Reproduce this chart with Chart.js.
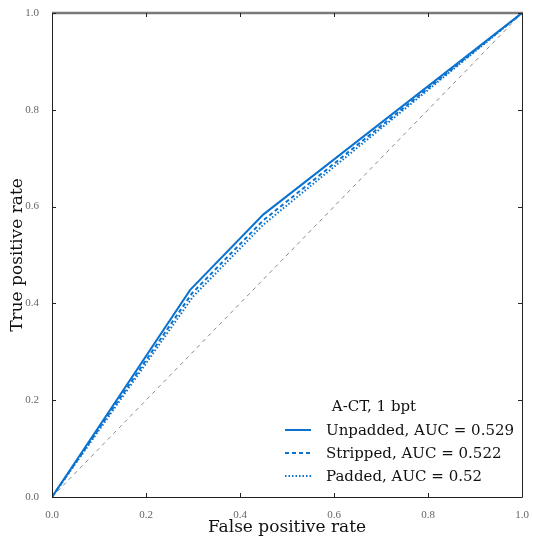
<!DOCTYPE html>
<html>
<head>
<meta charset="utf-8">
<script src="https://cdn.jsdelivr.net/npm/chart.js@4.4.0/dist/chart.umd.min.js"></script>
<style>
  html, body { margin: 0; padding: 0; background: #fff; }
  #wrap { width: 533px; height: 542px; }
</style>
</head>
<body>
<div id="wrap"><canvas id="roc" width="533" height="542"></canvas></div>
<script>
// ROC points
const fprUnpadded = [0, 0.294, 0.45, 1];
const tprUnpadded = [0, 0.428, 0.584, 1];
const fprStripped = [0, 0.298, 0.45, 1];
const tprStripped = [0, 0.421, 0.572, 1];
const fprPadded = [0, 0.3, 0.45, 1];
const tprPadded = [0, 0.414, 0.563, 1];
const chanceLine = [0, 1];

const seriesLabels = ['Unpadded, AUC = 0.529', 'Stripped, AUC = 0.522', 'Padded, AUC = 0.52'];
const legendTitle = 'A-CT, 1 bpt';
const tickValues = [0, 0.2, 0.4, 0.6, 0.8, 1.0];

const blue = '#0b72cf';
const serif = "'Liberation Serif', 'DejaVu Serif', serif";
const wideSerif = "'DejaVu Serif', serif";

function toPoints(xs, ys) {
  return xs.map((x, i) => ({ x: x, y: ys[i] }));
}

// frame, inward ticks and the legend
const framePlugin = {
  id: 'frame',
  afterDatasetsDraw(chart) {
    const { ctx, chartArea: a, scales } = chart;
    ctx.save();
    // spines
    ctx.lineWidth = 1;
    ctx.strokeStyle = '#222';
    ctx.beginPath();
    ctx.moveTo(a.left + 0.5, a.top); ctx.lineTo(a.left + 0.5, a.bottom + 0.5);
    ctx.lineTo(a.right + 0.5, a.bottom + 0.5); ctx.lineTo(a.right + 0.5, a.top);
    ctx.stroke();
    ctx.lineWidth = 2.5;
    ctx.strokeStyle = '#7a7a7a';
    ctx.beginPath();
    ctx.moveTo(a.left, a.top); ctx.lineTo(a.right + 1, a.top);
    ctx.stroke();
    // ticks
    ctx.lineWidth = 1;
    ctx.strokeStyle = '#222';
    ctx.beginPath();
    tickValues.forEach(v => {
      const px = Math.round(scales.x.getPixelForValue(v)) + 0.5;
      ctx.moveTo(px, a.bottom); ctx.lineTo(px, a.bottom - 4);
      ctx.moveTo(px, a.top); ctx.lineTo(px, a.top + 4);
      const py = Math.round(scales.y.getPixelForValue(v)) + 0.5;
      ctx.moveTo(a.left, py); ctx.lineTo(a.left + 4, py);
      ctx.moveTo(a.right, py); ctx.lineTo(a.right - 4, py);
    });
    ctx.stroke();

    // legend
    const lx = 285, ly = 407, step = 23;
    ctx.fillStyle = '#111';
    ctx.font = '15px ' + wideSerif;
    ctx.textBaseline = 'middle';
    ctx.textAlign = 'center';
    ctx.fillText(legendTitle, 374, ly);
    ctx.textAlign = 'left';
    for (let i = 0; i < 3; i++) {
      const ds = chart.data.datasets[i];
      const y = ly + step * (i + 1);
      ctx.strokeStyle = ds.borderColor;
      ctx.lineWidth = 2;
      ctx.setLineDash(ds.borderDash || []);
      ctx.beginPath();
      ctx.moveTo(lx, y); ctx.lineTo(lx + 26, y);
      ctx.stroke();
      ctx.setLineDash([]);
      ctx.fillText(ds.label, 326, y + 1);
    }
    ctx.restore();
  }
};

new Chart(document.getElementById('roc'), {
  type: 'line',
  data: {
    datasets: [
      { label: seriesLabels[0], data: toPoints(fprUnpadded, tprUnpadded), borderColor: blue, borderWidth: 2 },
      { label: seriesLabels[1], data: toPoints(fprStripped, tprStripped), borderColor: blue, borderWidth: 2, borderDash: [4, 3] },
      { label: seriesLabels[2], data: toPoints(fprPadded, tprPadded), borderColor: blue, borderWidth: 2, borderDash: [1.5, 2] },
      { label: 'chance', data: toPoints(chanceLine, chanceLine), borderColor: '#8a8a8a', borderWidth: 1, borderDash: [4, 4] }
    ]
  },
  options: {
    responsive: false,
    animation: false,
    events: [],
    elements: { point: { radius: 0 }, line: { tension: 0, fill: false } },
    layout: { padding: { top: 13, right: 11, left: 5, bottom: 0 } },
    plugins: { legend: { display: false }, tooltip: { enabled: false } },
    scales: {
      x: {
        type: 'linear', min: 0, max: 1,
        afterFit: s => { s.height = 45; },
        afterBuildTicks: s => { s.ticks = tickValues.map(v => ({ value: v })); },
        grid: { display: false },
        border: { display: false },
        ticks: { color: '#666', font: { family: serif, size: 11 }, padding: 4,
                 callback: v => v.toFixed(1) },
        title: { display: true, text: 'False positive rate', color: '#111',
                 font: { family: wideSerif, size: 17 }, padding: { top: 0, bottom: 4 } }
      },
      y: {
        type: 'linear', min: 0, max: 1,
        afterFit: s => { s.width = 47; },
        afterBuildTicks: s => { s.ticks = tickValues.map(v => ({ value: v })); },
        grid: { display: false },
        border: { display: false },
        ticks: { color: '#666', font: { family: serif, size: 11 }, padding: 5,
                 callback: v => v.toFixed(1) },
        title: { display: true, text: 'True positive rate', color: '#111',
                 font: { family: wideSerif, size: 17 }, padding: { top: 2, bottom: 0 } }
      }
    }
  },
  plugins: [framePlugin]
});
</script>
</body>
</html>
